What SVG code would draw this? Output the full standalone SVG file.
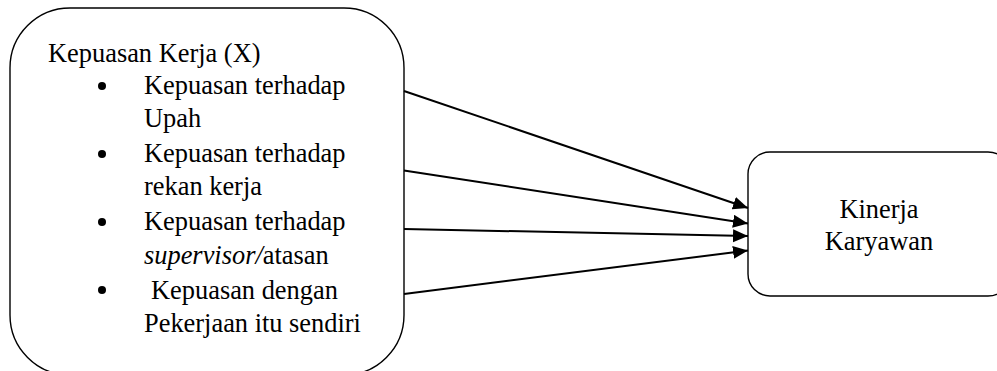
<svg xmlns="http://www.w3.org/2000/svg" width="997" height="371" viewBox="0 0 997 371">
<defs>
<marker id="ah" markerUnits="userSpaceOnUse" markerWidth="16" markerHeight="14" refX="15" refY="6.5" orient="auto">
<path d="M0,0 L15,6.5 L0,13 Z" fill="#000"/>
</marker>
</defs>
<rect width="997" height="371" fill="#fff"/>
<g id="kepuasan" font-family="Liberation Serif" font-size="26.4">
<rect x="10" y="8" width="394" height="367" rx="60" ry="60" fill="#fff" stroke="#000" stroke-width="1.4"/>
<text x="48" y="62">Kepuasan Kerja (X)</text>
<circle cx="102" cy="86" r="4"/>
<circle cx="102" cy="154" r="4"/>
<circle cx="102" cy="222" r="4"/>
<circle cx="102" cy="290" r="4"/>
<text x="144" y="93.5">Kepuasan terhadap</text>
<text x="144" y="127">Upah</text>
<text x="144" y="161.5">Kepuasan terhadap</text>
<text x="144" y="194.5">rekan kerja</text>
<text x="144" y="229.5">Kepuasan terhadap</text>
<text x="144" y="263.5"><tspan font-style="italic">supervisor/</tspan>atasan</text>
<text x="151" y="298.5">Kepuasan dengan</text>
<text x="144" y="332">Pekerjaan itu sendiri</text>
</g>
<g id="kinerja" font-family="Liberation Serif" font-size="26.4">
<rect x="748" y="152" width="262" height="144" rx="22" ry="22" fill="#fff" stroke="#000" stroke-width="1.4"/>
<text text-anchor="middle" x="879" y="218">Kinerja</text>
<text text-anchor="middle" x="879" y="250">Karyawan</text>
</g>
<g id="connectors" stroke="#000" stroke-width="2" fill="none" marker-end="url(#ah)">
<line x1="404" y1="91" x2="748" y2="208"/>
<line x1="404" y1="170.5" x2="748" y2="223.5"/>
<line x1="404" y1="229" x2="748" y2="236"/>
<line x1="404" y1="294" x2="748" y2="250.5"/>
</g>
</svg>
